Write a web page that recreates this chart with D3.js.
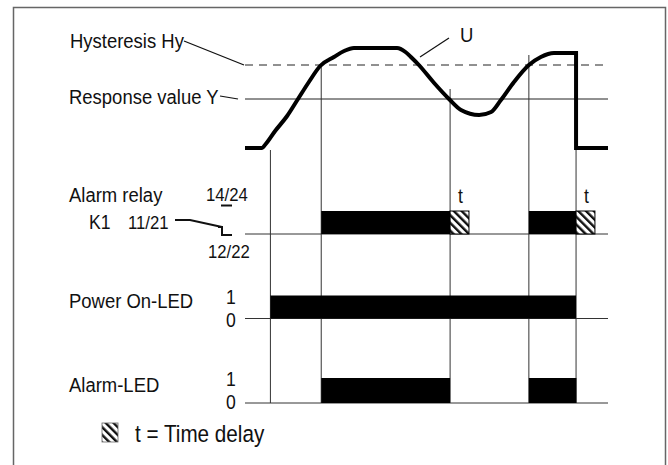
<!DOCTYPE html>
<html>
<head>
<meta charset="utf-8">
<style>
  body { margin: 0; background: #fff; }
  svg text { font-family: "Liberation Sans", Arial, Helvetica, sans-serif; fill: #111; }
</style>
</head>
<body>
<svg id="chart" width="668" height="465"></svg>
<script src="https://d3js.org/d3.v7.min.js"></script>
<script>
// time axis runs 0..100, signal level U runs 0..100
var responseY = 49, hysteresisHy = 83;

// measuring signal U (time, level)
var uTime  = [0, 4.7, 5.5, 8.3, 11.6, 14.6, 17.6, 20.7, 24.5, 27.3, 30, 41.9, 44.2, 45.7, 47.9, 52.1, 56.2, 59.5, 64.5, 67.8, 70.5, 74.1, 78.2, 81.5, 85.1, 91.2];
var uLevel = [0, 0, 3, 17, 32, 49, 66, 82, 91, 97, 100, 100, 96, 91, 83, 65, 49, 38, 33, 36, 48, 66, 83, 91, 95, 95];
var uOffTime = 91.2, uEndTime = 100;

// switching events, vertical guide lines (time, level where the line starts)
var eventTime  = [7, 21, 56.5, 78.2, 91.2];
var eventStart = [-2, 83, 59, 93, 0];

// state rows
var rows = ["relay", "power", "led"];
var relayOn    = [[21, 56.5], [78.2, 91.2]];
var relayDelay = [[56.5, 61.7], [91.2, 96.4]];
var powerOn    = [[7, 91.2]];
var ledOn      = [[21, 56.5], [78.2, 91.3]];

var svg = d3.select("#chart");

var x = d3.scaleLinear().domain([0, 100]).range([245, 608]);
var y = d3.scaleLinear().domain([0, 100]).range([148, 48]);
var row = d3.scalePoint().domain(rows).range([234, 403]);
var barH = 23;

// hatch pattern for the time delay
var pat = svg.append("defs").append("pattern")
    .attr("id", "hatch")
    .attr("patternUnits", "userSpaceOnUse")
    .attr("width", 5.5).attr("height", 5.5)
    .attr("patternTransform", "rotate(-45)");
pat.append("rect").attr("width", 5.5).attr("height", 5.5).attr("fill", "#fff");
pat.append("rect").attr("width", 2.4).attr("height", 5.5).attr("fill", "#111");

// frame
svg.append("path")
    .attr("d", "M13.5,470V7.5H665.5V470")
    .attr("fill", "none").attr("stroke", "#666").attr("stroke-width", 1.5);

var g = svg.append("g");

// reference levels
g.append("line")
    .attr("x1", x(0)).attr("x2", x(100))
    .attr("y1", y(hysteresisHy)).attr("y2", y(hysteresisHy))
    .attr("stroke", "#222").attr("stroke-dasharray", "8,6");
g.append("line")
    .attr("x1", x(0)).attr("x2", x(100))
    .attr("y1", y(responseY)).attr("y2", y(responseY))
    .attr("stroke", "#222");

// row baselines
g.selectAll(".base").data(rows).enter().append("line")
    .attr("x1", x(0)).attr("x2", x(100))
    .attr("y1", function(d) { return row(d); })
    .attr("y2", function(d) { return row(d); })
    .attr("stroke", "#333");

// event lines
g.selectAll(".ev").data(eventTime).enter().append("line")
    .attr("x1", function(d) { return x(d); })
    .attr("x2", function(d) { return x(d); })
    .attr("y1", function(d, i) { return y(eventStart[i]); })
    .attr("y2", row("led"))
    .attr("stroke", "#333");

// bars
function bars(data, r, fill) {
  return g.selectAll(null).data(data).enter().append("rect")
      .attr("x", function(d) { return x(d[0]); })
      .attr("width", function(d) { return x(d[1]) - x(d[0]); })
      .attr("y", row(r) - barH)
      .attr("height", barH)
      .attr("fill", fill);
}
bars(relayOn, "relay", "#000");
bars(relayDelay, "relay", "url(#hatch)").attr("stroke", "#000").attr("stroke-width", 1);
bars(powerOn, "power", "#000");
bars(ledOn, "led", "#000").attr("y", row("led") - barH - 2).attr("height", barH + 2);

// signal U
var pts = uTime.map(function(t, i) { return [x(t), y(uLevel[i])]; });
var line = d3.line().curve(d3.curveMonotoneX);
g.append("path")
    .attr("d", line(pts) + "L" + x(uOffTime) + "," + y(0) + "L" + x(uEndTime) + "," + y(0))
    .attr("fill", "none").attr("stroke", "#000").attr("stroke-width", 4)
    .attr("stroke-linejoin", "miter");

// texts
function label(px, py, txt, size, anchor) {
  return svg.append("text")
      .attr("transform", "translate(" + px + "," + py + ") scale(0.88,1)")
      .attr("font-size", size)
      .attr("text-anchor", anchor || "start")
      .text(txt);
}
function leader(pathD, w) {
  svg.append("path").attr("d", pathD).attr("fill", "none")
      .attr("stroke", "#111").attr("stroke-width", w || 1.2);
}

label(70, 48, "Hysteresis Hy", 21);
leader("M184,41L244," + y(hysteresisHy));
label(69, 104, "Response value Y", 21);
leader("M220,96L238," + y(responseY));
label(x(59.2), 42, "U", 21);
leader("M449,38L420,57");

label(69, 202, "Alarm relay", 21);
label(206, 200.5, "14/24", 19);
leader("M221,205.5H232", 2);
label(89, 229, "K1", 20);
label(128, 229, "11/21", 19);
leader("M175,220H190L222,227M218,227H222V235H232", 2);
label(208, 258, "12/22", 19);

relayDelay.forEach(function(d) {
  label(x((d[0] + d[1]) / 2) + 1, 203, "t", 20, "middle");
});

label(69, 307.5, "Power On-LED", 21);
label(226, 304, "1", 20);
label(226, 327, "0", 20);

label(69, 391.5, "Alarm-LED", 21);
label(226, 386, "1", 20);
label(226, 409, "0", 20);

// legend
svg.append("rect").attr("x", 102).attr("y", 423).attr("width", 16).attr("height", 19)
    .attr("fill", "url(#hatch)").attr("stroke", "#666").attr("stroke-width", 0.8);
label(135, 442, "t = Time delay", 23.5);
</script>
</body>
</html>
